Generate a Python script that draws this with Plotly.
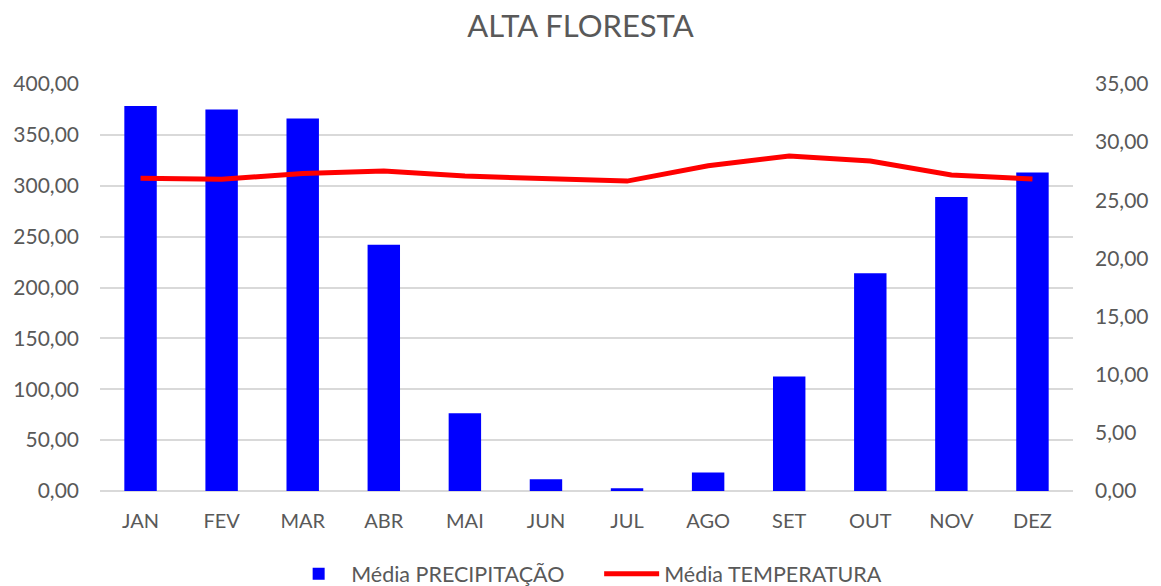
import plotly.graph_objects as go

months = ["JAN", "FEV", "MAR", "ABR", "MAI", "JUN", "JUL", "AGO", "SET", "OUT", "NOV", "DEZ"]
precipitacao = [378.4, 374.9, 366.1, 241.9, 76.5, 11.5, 2.6, 18.3, 112.5, 214.1, 288.9, 313.1]
temperatura = [26.89, 26.80, 27.31, 27.51, 27.08, 26.87, 26.65, 27.97, 28.80, 28.37, 27.17, 26.83]

FONT = "Lato"
GREY = "#595959"
GRID = "#d9d9d9"

W, H = 1161, 606

fig = go.Figure()
fig.add_trace(go.Bar(
    x=months, y=precipitacao, name="Média PRECIPITAÇÃO",
    marker=dict(color="#0000ff", line=dict(width=0)),
    yaxis="y",
))
fig.add_trace(go.Scatter(
    x=months, y=temperatura, name="Média TEMPERATURA",
    mode="lines", line=dict(color="#ff0000", width=5),
    yaxis="y2",
))

fig.update_layout(
    width=W, height=H,
    paper_bgcolor="white", plot_bgcolor="white",
    separators=",.",
    font=dict(family=FONT, size=21, color=GREY),
    title=dict(text="ALTA FLORESTA", x=0.5, xanchor="center", y=1 - 25.8 / H, yanchor="middle",
               font=dict(family=FONT, size=31, color=GREY)),
    margin=dict(l=100, r=80, t=84, b=H - 492),
    bargap=0.6,
    showlegend=True,
    legend=dict(orientation="h", x=0.513, xanchor="center", y=-0.2034, yanchor="middle",
                font=dict(family=FONT, size=21.5, color=GREY), itemwidth=55,
                entrywidth=243, traceorder="normal"),
    xaxis=dict(showgrid=False, showline=False, ticks="", tickfont=dict(size=20, color=GREY),
               ticklabelstandoff=16),
    yaxis=dict(range=[0, 400], dtick=50, tickformat=".2f", showgrid=True, gridcolor=GRID,
               gridwidth=1.5, zeroline=True, zerolinecolor=GRID, zerolinewidth=1.5,
               showline=False, ticks="", ticklabelstandoff=20,
               tickfont=dict(size=21, color=GREY)),
    yaxis2=dict(range=[0, 35], dtick=5, tickformat=".2f", overlaying="y", side="right",
                showgrid=False, zeroline=False, showline=False, ticks="",
                ticklabelstandoff=21, tickfont=dict(size=21, color=GREY)),
)

fig.write_html(
    "out.html",
    config={"displayModeBar": False},
    post_script="document.body.style.margin='0';document.body.style.overflow='hidden';",
)
